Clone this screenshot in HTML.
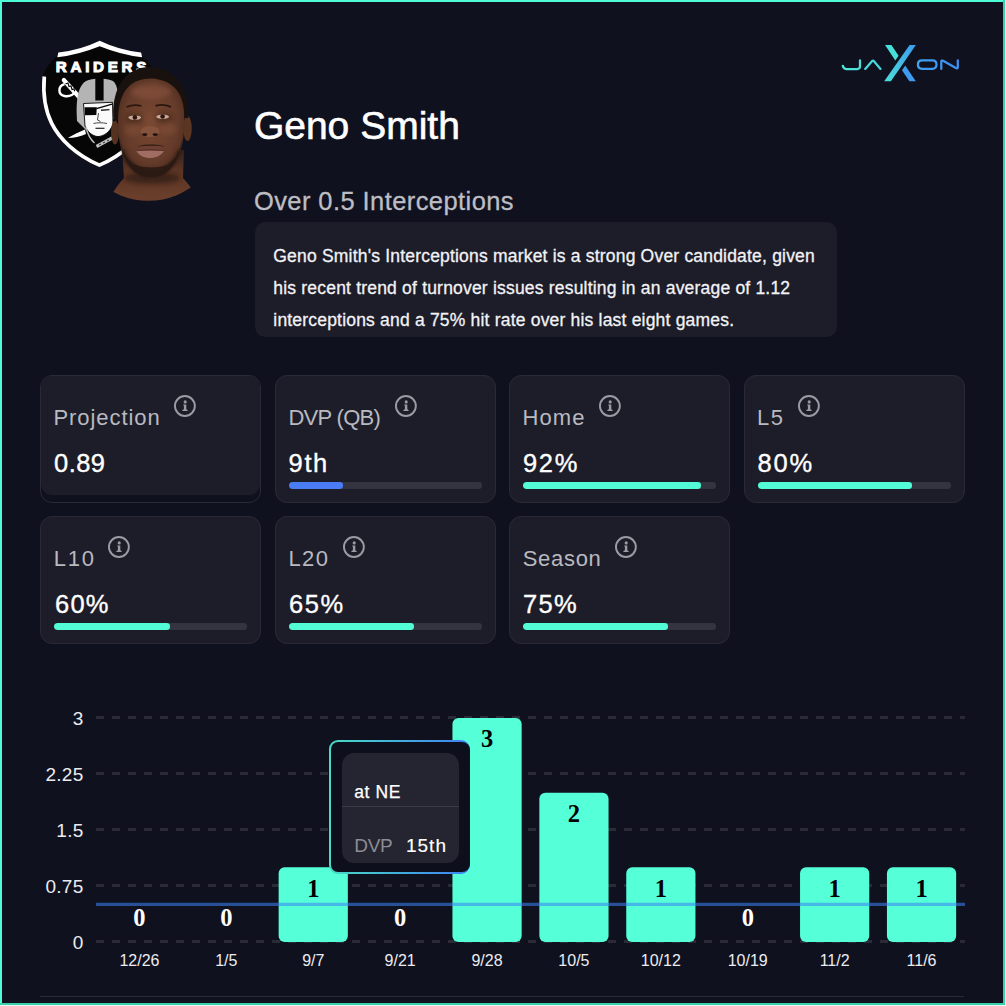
<!DOCTYPE html>
<html><head><meta charset="utf-8">
<style>
*{margin:0;padding:0;box-sizing:border-box}
html,body{width:1006px;height:1006px;overflow:hidden;background:#0f111e}
body{position:relative;font-family:"Liberation Sans",sans-serif;color:#fff}
.a{position:absolute;white-space:pre;line-height:1}
.card{position:absolute;width:221px;height:128px;border:1px solid #2a2a37;border-radius:12px;background:#1d1d29}
.card.proj{background:transparent}
.card.proj .fill{position:absolute;left:0;top:0;right:0;height:118.5px;background:#1d1d29;border-radius:11px}
.trk{position:absolute;width:193px;height:6.6px;border-radius:3.3px;background:#33343f;overflow:hidden}
.trk i{position:absolute;left:0;top:0;bottom:0;border-radius:3.3px;background:#52fcd6}
.info{position:absolute;width:22px;height:22px;overflow:visible}
</style></head>
<body>
<div style="position:absolute;left:0;top:0;width:1006px;height:2px;background:#4dfdd8"></div>
<div style="position:absolute;left:0;top:0;width:2px;height:1006px;background:#4dfdd8"></div>
<div style="position:absolute;left:1003px;top:0;width:2px;height:1005px;background:#3ccfae"></div>
<div style="position:absolute;left:0;top:1003px;width:1005px;height:2px;background:#3ccfae"></div>
<div style="position:absolute;left:1005px;top:0;width:1px;height:1006px;background:#e8f6f2"></div>
<div style="position:absolute;left:0;top:1005px;width:1006px;height:1px;background:#e8f6f2"></div>
<svg style="position:absolute;left:0;top:0" width="240" height="220" viewBox="0 0 240 220">
<defs>
<clipPath id="hc"><circle cx="148.4" cy="126.8" r="74"/></clipPath>
<radialGradient id="skin" cx="0.5" cy="0.45" r="0.62"><stop offset="0" stop-color="#7a4832"/><stop offset="0.65" stop-color="#653b2a"/><stop offset="1" stop-color="#45271b"/></radialGradient>
<linearGradient id="neck" x1="0" y1="0" x2="0" y2="1"><stop offset="0" stop-color="#35201a"/><stop offset="0.3" stop-color="#5a3424"/><stop offset="1" stop-color="#74452f"/></linearGradient>
<filter id="bl" x="-30%" y="-30%" width="160%" height="160%"><feGaussianBlur stdDeviation="2.2"/></filter><filter id="bl2" x="-30%" y="-30%" width="160%" height="160%"><feGaussianBlur stdDeviation="1.2"/></filter>
</defs>
<!-- shield black silhouette -->
<path d="M100 41 Q80 51 58 53 L56.5 56.5 C50 62 45.5 68.5 42.6 76 C40.8 95 43 110 50 124 C58 140 75 157 99.4 167 C123.8 157 140.8 140 148.8 124 C155.8 110 158 95 156.2 76 C153.3 68.5 148.8 62 142.3 56.5 L140.8 53 Q120 51 100 41 Z" fill="#060606"/>
<path d="M44.3 76.5 C42.7 95 44.8 109.5 51.7 123.3 C59.5 139 76 155 99.4 165.1 C122.8 155 139.3 139 147.1 123.3 C154 109.5 156.1 95 154.5 76.5" fill="none" stroke="#fff" stroke-width="3.7"/>
<path d="M99.7 40.8 Q80 50.3 58.3 52.6 L57.3 57.3 Q79 54.6 99.7 46.2 Q120.4 54.6 142.1 57.3 L141.1 52.6 Q119.4 50.3 99.7 40.8 Z" fill="#fff"/>
<text x="55.8" y="72.2" font-family="Liberation Sans" font-weight="bold" font-size="15.2" fill="#fff" stroke="#fff" stroke-width="1.0" letter-spacing="3.7">RAIDERS</text>
<!-- sword hilt -->
<path d="M63.8 80 L79.5 97.5" stroke="#fff" stroke-width="4.2" stroke-linecap="round"/>
<path d="M65.5 84 L68 83 L69 86.5 L71 86 L72 89.5 L74 89 L75 92" stroke="#060606" stroke-width="1.1" fill="none"/>
<path d="M64.5 84.2 C58 86 57.5 94.5 64.5 96 C69 97 73.5 94.5 76.5 91" fill="none" stroke="#fff" stroke-width="2.4"/>
<!-- blade bottom -->
<path d="M67.8 138 C73 135 79 132 85 129.5 L86 134 C80 136.5 74 138 67.8 138 Z" fill="#fff"/>
<!-- helmet -->
<path d="M77 121 C76 104 76.5 87 86 81 C92 77.5 107 77.5 113 81 C118 85 119 96 118 110 L116 118 L86 130 Z" fill="#b4b4b4"/>
<rect x="95.3" y="78" width="8.3" height="22.5" fill="#060606"/>
<path d="M83.5 103.5 L112.5 102.3 L113 124 C110.5 131.5 104.5 136.2 98 136.6 C92 136.2 87.5 131.5 85 126 Z" fill="#fafafa" stroke="#060606" stroke-width="0.9"/>
<path d="M84.5 107.2 L96.8 107.2 L96.3 115 L85 115.2 Z" fill="#060606"/>
<path d="M96.5 108.6 L112 104.2" stroke="#060606" stroke-width="1.3"/>
<path d="M101 110.2 L109.5 109.6" stroke="#222" stroke-width="1.4"/>
<path d="M98.5 113 L97.5 120 L100.5 121.5" stroke="#333" stroke-width="0.9" fill="none"/>
<path d="M93.5 123.5 C97 122.5 103 122.5 107 123.5" stroke="#333" stroke-width="0.9" fill="none"/>
<path d="M95.5 128.3 L104.5 128.3" stroke="#222" stroke-width="1.2"/>
<path d="M86 127 C87.5 134 90.5 139.5 94.5 143" stroke="#bdbdbd" stroke-width="1.4" fill="none"/>
<path d="M96.5 146.5 L113 137.5" stroke="#bdbdbd" stroke-width="3.2"/>
<path d="M99 145 L101 144 M103 143 L105 142 M107 141 L109 140" stroke="#060606" stroke-width="0.8"/>
<!-- head photo -->
<g clip-path="url(#hc)">
  <path d="M106 215 C108 196 117 186 124 178 L122 150 L184 150 L183 178 C190 186 199 196 201 215 Z" fill="url(#neck)"/>
  <ellipse cx="152" cy="178" rx="28" ry="6" fill="#2e1b12" opacity="0.7" filter="url(#bl)"/>
  <ellipse cx="115" cy="132.5" rx="4" ry="12" fill="#55321f"/>
  <ellipse cx="187.5" cy="128.5" rx="4.3" ry="12.4" fill="#5a3522"/>
  <path d="M118 112 C117.5 90 129 78 151 78 C173 78 184.5 90 184.5 112 C185 135 182 152 175.5 163 C170 172 161 176.5 151 176.5 C141 176.5 132 172 126.5 163 C120 152 117.5 135 118 112 Z" fill="url(#skin)"/>
  <g filter="url(#bl)">
    <ellipse cx="151" cy="92" rx="20" ry="7" fill="#83503a" opacity="0.7"/>
    <ellipse cx="134" cy="119" rx="9" ry="6" fill="#3e2418" opacity="0.55"/>
    <ellipse cx="164" cy="118" rx="9" ry="6" fill="#3e2418" opacity="0.55"/>
    <ellipse cx="133" cy="130" rx="8" ry="6" fill="#7e4c36" opacity="0.6"/>
    <ellipse cx="168" cy="129" rx="8" ry="6" fill="#7e4c36" opacity="0.6"/>
    <ellipse cx="150" cy="122" rx="4" ry="9" fill="#7a4a34" opacity="0.7"/>
  </g>
  <path d="M121 150 C124 163 132 172 141 175.5 C146 177.5 156 177.5 161 175.5 C170 172 178 163 181.5 150 L177 150 C174 160 166 167 158 168.5 L144 168.5 C136 167 128 160 125 150 Z" fill="#24160f" opacity="0.55" filter="url(#bl2)"/>
  <path d="M113.6 121 C111 95 121 68 148.5 67 C176 67.5 190 88 188.2 118 L184.3 118 C184.8 96 175.5 79 150 78.5 C127 79 117.8 96 118.2 121 Z" fill="#19110d"/>
  <path d="M120 138 C121 156 129 170 140 175 C145 177.5 157 177.5 162 175 C173 170 181 156 182.5 138 C180 153 174 161 168 164.5 C160 168.5 143 168.5 135 164.5 C128 161 122 153 120 138 Z" fill="#2a1a13" opacity="0.9"/>
  <path d="M137 147 C142 143.5 160 143.5 165.5 147 C161 145.3 141 145.3 137 147 Z" fill="#2a1a13"/>
  <path d="M136 150.5 C140 146 146 145.5 150 146.5 C154 145.5 160 146 164.5 150.5 Z" fill="#6e3f33"/><path d="M136 150.5 C140 157 146 158 150 158 C154 158 160 157 164.5 150.5 Z" fill="#a06d64"/>
  <path d="M136.5 150.5 Q151 149 164.5 150.5" stroke="#4a2a22" stroke-width="0.9" fill="none"/>
  <ellipse cx="150" cy="131.5" rx="9.5" ry="5.5" fill="#85533c"/>
  <ellipse cx="144.8" cy="134.6" rx="2.7" ry="1.4" fill="#1f120d"/>
  <ellipse cx="155.2" cy="134.6" rx="2.7" ry="1.4" fill="#1f120d"/>
  <ellipse cx="134.7" cy="117.6" rx="6.4" ry="2.2" fill="#c9aa9c"/>
  <ellipse cx="162.6" cy="116.7" rx="6.4" ry="2.2" fill="#c9aa9c"/>
  <circle cx="134.9" cy="117.4" r="2.3" fill="#2e150e"/>
  <circle cx="162.6" cy="116.5" r="2.3" fill="#2e150e"/>
  <path d="M126.5 107 Q134 103.8 141.5 106 M155.5 105.8 Q163 103.5 171 106.8" stroke="#2a1810" stroke-width="1.8" fill="none"/>
</g>
</svg>
<svg style="position:absolute;left:838px;top:42px" width="126" height="42" viewBox="838 42 126 42">
  <defs>
  <linearGradient id="jx" gradientUnits="userSpaceOnUse" x1="841" y1="0" x2="960" y2="0"><stop offset="0" stop-color="#4ee9d6"/><stop offset="0.45" stop-color="#45c8e2"/><stop offset="0.7" stop-color="#3f9cef"/><stop offset="1" stop-color="#3d8ef2"/></linearGradient>
  <linearGradient id="jx2" gradientUnits="userSpaceOnUse" x1="886" y1="81" x2="914" y2="45"><stop offset="0" stop-color="#4bdcd9"/><stop offset="1" stop-color="#3d9cef"/></linearGradient>
  </defs>
  <g fill="none" stroke="url(#jx)" stroke-width="2.25" stroke-linecap="round" stroke-linejoin="round">
    <path d="M842.8 65.8 Q843.5 69 846.3 69 L857.2 69 Q860 69 860 66.3 L860 60.4"/>
    <path d="M865.2 68.9 L872.2 61 Q873 60.1 873.8 61 L880.5 68.9"/>
    <path d="M917.9 64.6 Q917.9 60.35 922.1 60.35 L932.3 60.35 Q936.5 60.35 936.5 64.6 Q936.5 68.85 932.3 68.85 L922.1 68.85 Q917.9 68.85 917.9 64.6 Z"/>
    <path d="M941.3 68.9 L941.3 61.8 Q941.3 59.9 943.1 60.8 L955.9 68.1 Q957.8 69 957.8 67 L957.8 60.35"/>
  </g>
  <path d="M885 45 L891.4 45 L898.6 55.7 L895.3 60.4 Z" fill="#47dfd9"/>
  <path d="M902 70.3 L905.2 65.6 L915.8 81.3 L909.4 81.3 Z" fill="#3f9bef"/>
  <path d="M909.6 45 L915.9 45 L890.9 81.3 L884.2 81.3 Z" fill="url(#jx2)"/>
</svg>
<div class="a" style="left:253.90px;top:106.09px;font-size:39px;color:#fff;letter-spacing:0px;-webkit-text-stroke:0.6px #fff;">Geno Smith</div>
<div class="a" style="left:253.90px;top:189.41px;font-size:25.5px;color:#bdbdc4;letter-spacing:0.42px;-webkit-text-stroke:0.3px #bdbdc4;">Over 0.5 Interceptions</div>
<div style="position:absolute;left:254.5px;top:222px;width:582.7px;height:115.2px;border-radius:10.5px;background:#1d1d29"></div>
<div class="a" style="left:273.30px;top:248.19px;font-size:17.5px;color:#f2f2f5;letter-spacing:0.195px;-webkit-text-stroke:0.3px #f2f2f5;">Geno Smith's Interceptions market is a strong Over candidate, given</div>
<div class="a" style="left:273.30px;top:279.79px;font-size:17.5px;color:#f2f2f5;letter-spacing:0.195px;-webkit-text-stroke:0.3px #f2f2f5;">his recent trend of turnover issues resulting in an average of 1.12</div>
<div class="a" style="left:273.30px;top:311.59px;font-size:17.5px;color:#f2f2f5;letter-spacing:0.195px;-webkit-text-stroke:0.3px #f2f2f5;">interceptions and a 75% hit rate over his last eight games.</div>
<div class="card proj" style="left:40px;top:375px"><div class="fill"></div></div>
<div class="a" style="left:53.40px;top:407.28px;font-size:22px;color:#b9b9c0;letter-spacing:0.95px;">Projection</div>
<div class="a" style="left:54.10px;top:450.71px;font-size:25.5px;color:#fff;letter-spacing:0.4px;-webkit-text-stroke:0.35px #fff;">0.89</div>
<svg class="info" style="left:174.0px;top:395.3px" viewBox="0 0 22 22"><use href="#ic"/></svg>
<div class="card" style="left:275px;top:375px"></div>
<div class="trk" style="left:289px;top:482.3px"><i style="width:28%;background:#4a7cf5;"></i></div>
<div class="a" style="left:288.40px;top:407.28px;font-size:22px;color:#b9b9c0;letter-spacing:-0.7px;">DVP (QB)</div>
<div class="a" style="left:288.60px;top:450.71px;font-size:25.5px;color:#fff;letter-spacing:1.6px;-webkit-text-stroke:0.35px #fff;">9th</div>
<svg class="info" style="left:395.4px;top:395.3px" viewBox="0 0 22 22"><use href="#ic"/></svg>
<div class="card" style="left:509px;top:375px"></div>
<div class="trk" style="left:523px;top:482.3px"><i style="width:92%;"></i></div>
<div class="a" style="left:522.40px;top:407.28px;font-size:22px;color:#b9b9c0;letter-spacing:1.1px;">Home</div>
<div class="a" style="left:522.90px;top:450.71px;font-size:25.5px;color:#fff;letter-spacing:1.7px;-webkit-text-stroke:0.35px #fff;">92%</div>
<svg class="info" style="left:599.1px;top:395.3px" viewBox="0 0 22 22"><use href="#ic"/></svg>
<div class="card" style="left:744px;top:375px"></div>
<div class="trk" style="left:758px;top:482.3px"><i style="width:80%;"></i></div>
<div class="a" style="left:756.90px;top:407.28px;font-size:22px;color:#b9b9c0;letter-spacing:1.6px;">L5</div>
<div class="a" style="left:757.60px;top:450.71px;font-size:25.5px;color:#fff;letter-spacing:1.8px;-webkit-text-stroke:0.35px #fff;">80%</div>
<svg class="info" style="left:798.3px;top:395.3px" viewBox="0 0 22 22"><use href="#ic"/></svg>
<div class="card" style="left:40px;top:516px"></div>
<div class="trk" style="left:54px;top:623.3px"><i style="width:60%;"></i></div>
<div class="a" style="left:53.70px;top:548.28px;font-size:22px;color:#b9b9c0;letter-spacing:1.8px;">L10</div>
<div class="a" style="left:55.10px;top:591.71px;font-size:25.5px;color:#fff;letter-spacing:1.2px;-webkit-text-stroke:0.35px #fff;">60%</div>
<svg class="info" style="left:108.2px;top:536.3px" viewBox="0 0 22 22"><use href="#ic"/></svg>
<div class="card" style="left:275px;top:516px"></div>
<div class="trk" style="left:289px;top:623.3px"><i style="width:65%;"></i></div>
<div class="a" style="left:288.40px;top:548.28px;font-size:22px;color:#b9b9c0;letter-spacing:1.4px;">L20</div>
<div class="a" style="left:288.90px;top:591.71px;font-size:25.5px;color:#fff;letter-spacing:1.6px;-webkit-text-stroke:0.35px #fff;">65%</div>
<svg class="info" style="left:343.0px;top:536.3px" viewBox="0 0 22 22"><use href="#ic"/></svg>
<div class="card" style="left:509px;top:516px"></div>
<div class="trk" style="left:523px;top:623.3px"><i style="width:75%;"></i></div>
<div class="a" style="left:522.70px;top:548.28px;font-size:22px;color:#b9b9c0;letter-spacing:0.7px;">Season</div>
<div class="a" style="left:523.10px;top:591.71px;font-size:25.5px;color:#fff;letter-spacing:1.3px;-webkit-text-stroke:0.35px #fff;">75%</div>
<svg class="info" style="left:615.2px;top:536.4px" viewBox="0 0 22 22"><use href="#ic"/></svg>
<svg width="0" height="0" style="position:absolute"><defs>
<g id="ic"><circle cx="10.9" cy="11" r="9.95" fill="none" stroke="#9b9ba4" stroke-width="1.9"/><circle cx="11.2" cy="6.9" r="1.55" fill="#9b9ba4"/><path d="M9.2 9.4 L12.3 9.4 L12.3 14.2 L13.6 15.1 L13.6 16 L8.4 16 L8.4 15.1 L9.9 14.2 L9.9 10.6 L9.2 10.3 Z" fill="#9b9ba4"/></g>
</defs></svg>
<svg style="position:absolute;left:0;top:0" width="1006" height="1006">
<g stroke="#2a2b36" stroke-width="3" stroke-dasharray="8 8">
<line x1="96" y1="717.5" x2="965" y2="717.5"/>
<line x1="96" y1="773.5" x2="965" y2="773.5"/>
<line x1="96" y1="829.5" x2="965" y2="829.5"/>
<line x1="96" y1="885.5" x2="965" y2="885.5"/>
<line x1="96" y1="941.5" x2="965" y2="941.5"/>
</g>
<g fill="#55ffd8">
<rect x="278.65" y="867.33" width="69.2" height="74.67" rx="6"/>
<rect x="452.45" y="718.00" width="69.2" height="224.00" rx="6"/>
<rect x="539.35" y="792.67" width="69.2" height="149.33" rx="6"/>
<rect x="626.25" y="867.33" width="69.2" height="74.67" rx="6"/>
<rect x="800.05" y="867.33" width="69.2" height="74.67" rx="6"/>
<rect x="886.95" y="867.33" width="69.2" height="74.67" rx="6"/>
</g>
<line x1="96" y1="904.4" x2="965" y2="904.4" stroke="#3b82f6" stroke-opacity=".56" stroke-width="3.2"/>
<line x1="40" y1="996.5" x2="964" y2="996.5" stroke="#2a2a38" stroke-width="1"/>
</svg>
<div class="a" style="left:23.6px;width:60px;text-align:right;top:709.32px;font-size:19px;letter-spacing:0.3px;color:#ececf0">3</div>
<div class="a" style="left:23.6px;width:60px;text-align:right;top:765.32px;font-size:19px;letter-spacing:0.3px;color:#ececf0">2.25</div>
<div class="a" style="left:23.6px;width:60px;text-align:right;top:821.32px;font-size:19px;letter-spacing:0.3px;color:#ececf0">1.5</div>
<div class="a" style="left:23.6px;width:60px;text-align:right;top:877.32px;font-size:19px;letter-spacing:0.3px;color:#ececf0">0.75</div>
<div class="a" style="left:23.6px;width:60px;text-align:right;top:933.32px;font-size:19px;letter-spacing:0.3px;color:#ececf0">0</div>
<div class="a" style="left:99.45px;width:80px;text-align:center;top:953.08px;font-size:16px;color:#ececf0">12/26</div>
<div class="a" style="left:186.35px;width:80px;text-align:center;top:953.08px;font-size:16px;color:#ececf0">1/5</div>
<div class="a" style="left:273.25px;width:80px;text-align:center;top:953.08px;font-size:16px;color:#ececf0">9/7</div>
<div class="a" style="left:360.15px;width:80px;text-align:center;top:953.08px;font-size:16px;color:#ececf0">9/21</div>
<div class="a" style="left:447.05px;width:80px;text-align:center;top:953.08px;font-size:16px;color:#ececf0">9/28</div>
<div class="a" style="left:533.95px;width:80px;text-align:center;top:953.08px;font-size:16px;color:#ececf0">10/5</div>
<div class="a" style="left:620.85px;width:80px;text-align:center;top:953.08px;font-size:16px;color:#ececf0">10/12</div>
<div class="a" style="left:707.75px;width:80px;text-align:center;top:953.08px;font-size:16px;color:#ececf0">10/19</div>
<div class="a" style="left:794.65px;width:80px;text-align:center;top:953.08px;font-size:16px;color:#ececf0">11/2</div>
<div class="a" style="left:881.55px;width:80px;text-align:center;top:953.08px;font-size:16px;color:#ececf0">11/6</div>
<div class="a" style="left:119.45px;width:40px;text-align:center;top:906.16px;font-family:'Liberation Serif',serif;font-weight:bold;font-size:24.5px;color:#fff">0</div>
<div class="a" style="left:206.35px;width:40px;text-align:center;top:906.16px;font-family:'Liberation Serif',serif;font-weight:bold;font-size:24.5px;color:#fff">0</div>
<div class="a" style="left:293.25px;width:40px;text-align:center;top:876.60px;font-family:'Liberation Serif',serif;font-weight:bold;font-size:24.5px;color:#000">1</div>
<div class="a" style="left:380.15px;width:40px;text-align:center;top:906.16px;font-family:'Liberation Serif',serif;font-weight:bold;font-size:24.5px;color:#fff">0</div>
<div class="a" style="left:467.05px;width:40px;text-align:center;top:727.26px;font-family:'Liberation Serif',serif;font-weight:bold;font-size:24.5px;color:#000">3</div>
<div class="a" style="left:553.95px;width:40px;text-align:center;top:801.93px;font-family:'Liberation Serif',serif;font-weight:bold;font-size:24.5px;color:#000">2</div>
<div class="a" style="left:640.85px;width:40px;text-align:center;top:876.60px;font-family:'Liberation Serif',serif;font-weight:bold;font-size:24.5px;color:#000">1</div>
<div class="a" style="left:727.75px;width:40px;text-align:center;top:906.16px;font-family:'Liberation Serif',serif;font-weight:bold;font-size:24.5px;color:#fff">0</div>
<div class="a" style="left:814.65px;width:40px;text-align:center;top:876.60px;font-family:'Liberation Serif',serif;font-weight:bold;font-size:24.5px;color:#000">1</div>
<div class="a" style="left:901.55px;width:40px;text-align:center;top:876.60px;font-family:'Liberation Serif',serif;font-weight:bold;font-size:24.5px;color:#000">1</div>
<div style="position:absolute;left:329px;top:740px;width:140.8px;height:133.8px;border-radius:9px;background:linear-gradient(90deg,#47dcc4,#3f80f4)">
  <div style="position:absolute;left:2px;top:2px;right:0;bottom:2px;border-radius:7px 8px 8px 7px;background:#0e0f1c"></div>
</div>
<div style="position:absolute;left:342px;top:753px;width:117px;height:109.5px;border-radius:12px;background:#252531"></div>
<div style="position:absolute;left:342px;top:806.3px;width:117px;height:1px;background:#3b3b47"></div>
<div class="a" style="left:354.20px;top:783.69px;font-size:17.5px;color:#fff;letter-spacing:0.6px;-webkit-text-stroke:0.25px #fff;">at NE</div>
<div class="a" style="left:354.30px;top:835.82px;font-size:19px;color:#8c8c94;letter-spacing:-0.35px;">DVP</div>
<div class="a" style="left:405.90px;top:835.82px;font-size:19px;color:#fff;letter-spacing:1.05px;-webkit-text-stroke:0.15px #fff;">15th</div>
</body></html>
